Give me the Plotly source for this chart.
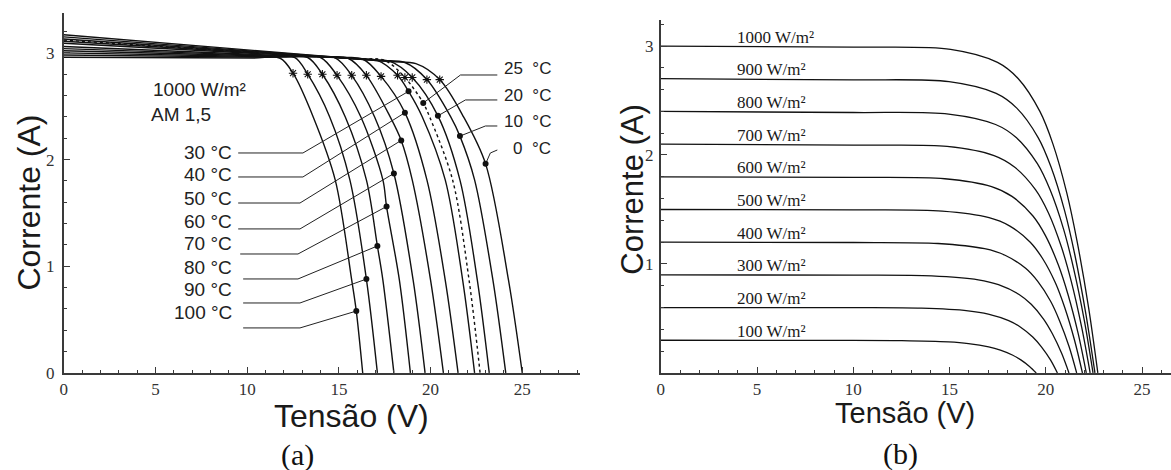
import plotly.graph_objects as go

# ---------------- Panel (a): I-V curves for several temperatures ----------------
temps_a = [100, 90, 80, 70, 60, 50, 40, 30, 25, 20, 10, 0]
volt_a = [
    [0, 10.3, 11.8, 12.5, 13.6, 14.8, 15.7, 15.95, 16.3],
    [0, 11.1, 12.6, 13.3, 14.5, 15.6, 16.5, 17.1],
    [0, 11.8, 13.3, 14.1, 15.35, 16.5, 17.1, 17.4, 18.0],
    [0, 12.5, 14.0, 14.9, 16.2, 17.4, 17.6, 18.3, 18.9],
    [0, 13.3, 14.8, 15.7, 16.95, 18.0, 19.05, 19.7],
    [0, 14.0, 15.5, 16.5, 17.8, 18.4, 19.0, 20.0, 20.7],
    [0, 14.8, 16.3, 17.3, 18.6, 19.8, 20.8, 21.5],
    [0, 15.6, 17.1, 18.2, 18.8, 19.55, 20.8, 21.75, 22.4],
    [0, 16.0, 17.5, 18.6, 19.6, 19.95, 21.2, 22.1, 22.7],
    [0, 16.3, 17.8, 19.0, 20.4, 21.6, 22.55, 23.2],
    [0, 17.1, 18.6, 19.8, 21.1, 21.6, 22.4, 23.4, 24.1],
    [0, 17.7, 19.2, 20.5, 21.8, 23.0, 24.25, 25.0],
]
curr_a = [
    [2.96, 2.952, 2.95, 2.81, 2.40, 1.81, 0.87, 0.58, 0],
    [2.98, 2.959, 2.956, 2.80, 2.40, 1.81, 0.88, 0],
    [3.00, 2.962, 2.957, 2.80, 2.40, 1.81, 1.19, 0.87, 0],
    [3.02, 2.964, 2.957, 2.79, 2.40, 1.81, 1.56, 0.87, 0],
    [3.04, 2.963, 2.954, 2.79, 2.40, 1.87, 0.87, 0],
    [3.06, 2.961, 2.95, 2.79, 2.40, 2.18, 1.81, 0.87, 0],
    [3.09, 2.956, 2.943, 2.78, 2.44, 1.81, 0.87, 0],
    [3.11, 2.949, 2.93, 2.79, 2.64, 2.40, 1.81, 0.87, 0],
    [3.12, 2.945, 2.93, 2.77, 2.53, 2.40, 1.81, 0.87, 0],
    [3.13, 2.941, 2.92, 2.77, 2.41, 1.81, 0.87, 0],
    [3.15, 2.929, 2.91, 2.75, 2.40, 2.22, 1.81, 0.87, 0],
    [3.17, 2.919, 2.90, 2.75, 2.40, 1.96, 0.87, 0],
]
# asterisk markers (one per curve)
star_v = [12.5, 13.3, 14.1, 14.9, 15.7, 16.5, 17.3, 18.2, 18.6, 19.0, 19.8, 20.5]
star_i = [2.81, 2.80, 2.80, 2.79, 2.79, 2.79, 2.78, 2.79, 2.77, 2.77, 2.75, 2.75]
# filled dots (one per curve, where the label leader line ends)
dot_v = [15.95, 16.5, 17.1, 17.6, 18.0, 18.4, 18.6, 18.8, 19.6, 20.4, 21.6, 23.0]
dot_i = [0.58, 0.88, 1.19, 1.56, 1.87, 2.18, 2.44, 2.64, 2.53, 2.41, 2.22, 1.96]

# labels on the left side and their leader lines
left_labels = ["30 °C", "40 °C", "50 °C", "60 °C", "70 °C", "80 °C", "90 °C", "100 °C"]
left_label_i = [2.062, 1.856, 1.631, 1.415, 1.209, 0.993, 0.778, 0.562]
left_label_v = 9.29
left_lead_v = [[9.51, 13.04, 18.8], [9.51, 13.04, 18.6], [9.51, 12.88, 18.4], [9.51, 12.88, 18.0],
               [9.62, 12.77, 17.6], [9.78, 12.77, 17.1], [9.78, 12.88, 16.5], [9.78, 12.88, 15.95]]
left_lead_i = [[2.062, 2.062, 2.64], [1.837, 1.837, 2.44], [1.593, 1.593, 2.18], [1.350, 1.350, 1.87],
               [1.115, 1.115, 1.56], [0.881, 0.881, 1.19], [0.656, 0.656, 0.88], [0.422, 0.422, 0.58]]
# labels on the right side
right_labels = ["25\u00a0\u00a0°C", "20\u00a0\u00a0°C", "10\u00a0\u00a0°C", "0\u00a0\u00a0°C"]
right_label_i = [2.855, 2.602, 2.358, 2.105]
right_label_v = 26.68
right_lead_v = [[23.64, 21.63, 19.6], [23.64, 21.90, 20.4], [23.64, 22.99, 21.6], [23.64, 23.26, 23.0]]
right_lead_i = [[2.793, 2.793, 2.53], [2.559, 2.559, 2.41], [2.315, 2.315, 2.22], [2.09, 2.062, 1.96]]

# ---------------- Panel (b): I-V curves for several irradiances ----------------
irr_b = [1000, 900, 800, 700, 600, 500, 400, 300, 200, 100]
volt_b = [
    [0, 10, 15.05, 17.49, 18.57, 19.69, 20.37, 21.09, 21.63, 22.22, 22.70],
    [0, 10, 14.97, 17.42, 18.49, 19.60, 20.27, 20.98, 21.51, 22.08, 22.55],
    [0, 10, 14.95, 17.39, 18.46, 19.56, 20.22, 20.92, 21.44, 22.00, 22.45],
    [0, 10, 14.87, 17.31, 18.37, 19.47, 20.13, 20.81, 21.32, 21.86, 22.30],
    [0, 10, 14.75, 17.18, 18.24, 19.33, 19.98, 20.65, 21.15, 21.68, 22.10],
    [0, 10, 14.62, 17.05, 18.11, 19.19, 19.83, 20.50, 20.98, 21.49, 21.90],
    [0, 10, 14.40, 16.82, 17.88, 18.95, 19.58, 20.24, 20.71, 21.21, 21.60],
    [0, 10, 14.07, 16.49, 17.54, 18.61, 19.24, 19.88, 20.34, 20.82, 21.20],
    [0, 10, 13.54, 15.96, 17.01, 18.07, 18.69, 19.32, 19.77, 20.24, 20.60],
    [0, 9, 12.52, 14.94, 15.98, 17.03, 17.64, 18.26, 18.70, 19.15, 19.50],
]
curr_b = [
    [3.00, 2.99, 2.97, 2.85, 2.70, 2.40, 2.10, 1.65, 1.20, 0.60, 0],
    [2.70, 2.69, 2.673, 2.565, 2.43, 2.16, 1.89, 1.485, 1.08, 0.54, 0],
    [2.40, 2.39, 2.376, 2.28, 2.16, 1.92, 1.68, 1.32, 0.96, 0.48, 0],
    [2.10, 2.09, 2.079, 1.995, 1.89, 1.68, 1.47, 1.155, 0.84, 0.42, 0],
    [1.80, 1.795, 1.782, 1.71, 1.62, 1.44, 1.26, 0.99, 0.72, 0.36, 0],
    [1.50, 1.496, 1.485, 1.425, 1.35, 1.20, 1.05, 0.825, 0.60, 0.30, 0],
    [1.20, 1.197, 1.188, 1.14, 1.08, 0.96, 0.84, 0.66, 0.48, 0.24, 0],
    [0.90, 0.898, 0.891, 0.855, 0.81, 0.72, 0.63, 0.495, 0.36, 0.18, 0],
    [0.60, 0.599, 0.594, 0.57, 0.54, 0.48, 0.42, 0.33, 0.24, 0.12, 0],
    [0.30, 0.2995, 0.297, 0.285, 0.27, 0.24, 0.21, 0.165, 0.12, 0.06, 0],
]
irr_label_v = 3.85

x_ticks = [0, 5, 10, 15, 20, 25]

INK = "#111111"
AX = "#3a3a3a"
SANS = "Liberation Sans, Arial, sans-serif"
SERIF = "Liberation Serif, Times New Roman, serif"

fig = go.Figure()

# panel (a) curves
for t, vv, ii in zip(temps_a, volt_a, curr_a):
    fig.add_trace(go.Scatter(
        x=vv, y=ii, mode="lines", xaxis="x", yaxis="y",
        line=dict(color=INK, width=1.4, shape="spline", smoothing=0.9,
                  dash="3px,3px" if t == 25 else "solid"),
        name=f"{t} °C", hoverinfo="name"))
fig.add_trace(go.Scatter(x=star_v, y=star_i, mode="markers", xaxis="x", yaxis="y",
                         marker=dict(symbol="asterisk-open", size=7, color=INK, line=dict(width=1.1, color=INK)),
                         hoverinfo="skip"))
for lv, li in zip(left_lead_v + right_lead_v, left_lead_i + right_lead_i):
    fig.add_trace(go.Scatter(x=lv, y=li, mode="lines", xaxis="x", yaxis="y",
                             line=dict(color="#222", width=1), hoverinfo="skip"))
fig.add_trace(go.Scatter(x=dot_v, y=dot_i, mode="markers", xaxis="x", yaxis="y",
                         marker=dict(symbol="circle", size=6, color=INK), hoverinfo="skip"))

# panel (b) curves
for g, vv, ii in zip(irr_b, volt_b, curr_b):
    fig.add_trace(go.Scatter(
        x=vv, y=ii, mode="lines", xaxis="x2", yaxis="y2",
        line=dict(color=INK, width=1.3, shape="spline", smoothing=0.9),
        name=f"{g} W/m²", hoverinfo="name"))

ann = []
for lbl, li in zip(left_labels, left_label_i):
    ann.append(dict(x=left_label_v, y=li, xref="x", yref="y", text=lbl, showarrow=False,
                    xanchor="right", yanchor="middle", font=dict(family=SANS, size=19, color="#222")))
for lbl, li in zip(right_labels, right_label_i):
    ann.append(dict(x=right_label_v, y=li, xref="x", yref="y", text=lbl, showarrow=False,
                    xanchor="right", yanchor="middle", font=dict(family=SANS, size=17, color="#222")))
ann.append(dict(x=4.73, y=2.66, xref="x", yref="y", text="1000 W/m²", showarrow=False,
                xanchor="left", yanchor="middle", font=dict(family=SANS, size=19, color="#222")))
ann.append(dict(x=4.62, y=2.427, xref="x", yref="y", text="AM 1,5", showarrow=False,
                xanchor="left", yanchor="middle", font=dict(family=SANS, size=19, color="#222")))
for g, ii in zip(irr_b, curr_b):
    ann.append(dict(x=irr_label_v, y=ii[0], xref="x2", yref="y2", text=f"{g} W/m²", showarrow=False,
                    xanchor="left", yanchor="middle", yshift=9,
                    font=dict(family=SERIF, size=17, color="#1a1a1a")))

# axis titles and panel letters
ann += [
    dict(x=0.0218, y=0.570, xref="paper", yref="paper", text="Corrente (A)", textangle=-90, showarrow=False,
         font=dict(family=SANS, size=32, color="#1a1a1a"), xanchor="center", yanchor="middle"),
    dict(x=0.298, y=0.115, xref="paper", yref="paper", text="Tensão (V)", showarrow=False,
         font=dict(family=SANS, size=32, color="#1a1a1a"), xanchor="center", yanchor="middle"),
    dict(x=0.5388, y=0.598, xref="paper", yref="paper", text="Corrente (A)", textangle=-90, showarrow=False,
         font=dict(family=SANS, size=31, color="#1a1a1a"), xanchor="center", yanchor="middle"),
    dict(x=0.772, y=0.122, xref="paper", yref="paper", text="Tensão (V)", showarrow=False,
         font=dict(family=SANS, size=29, color="#1a1a1a"), xanchor="center", yanchor="middle"),
    dict(x=0.2511, y=0.032, xref="paper", yref="paper", text="(a)", showarrow=False,
         font=dict(family=SERIF, size=30, color="#111"), xanchor="center", yanchor="middle"),
    dict(x=0.7686, y=0.034, xref="paper", yref="paper", text="(b)", showarrow=False,
         font=dict(family=SERIF, size=30, color="#111"), xanchor="center", yanchor="middle"),
]

axis_common = dict(showgrid=False, zeroline=False, showline=True, linecolor=AX, linewidth=1.6,
                   ticks="inside", ticklen=6, tickwidth=1.2, tickcolor=AX,
                   tickfont=dict(family=SERIF, size=17, color="#333"))

fig.update_layout(
    width=1171, height=480, margin=dict(l=0, r=0, t=0, b=0),
    paper_bgcolor="white", plot_bgcolor="white", showlegend=False,
    xaxis=dict(domain=[0.05124, 0.4936], range=[0, 28.15], anchor="y", tickvals=x_ticks,
               minor=dict(tickmode="linear", tick0=0, dtick=1, ticks="inside", ticklen=3, tickcolor=AX),
               **axis_common),
    yaxis=dict(domain=[0.2065, 0.9723], range=[0, 3.374], anchor="x", tickvals=[0, 1, 2, 3],
               minor=dict(tickmode="linear", tick0=0, dtick=0.2, ticks="inside", ticklen=3, tickcolor=AX),
               ticklabelstandoff=4, **axis_common),
    xaxis2=dict(domain=[0.5628, 1.0], range=[0, 26.5], anchor="y2", tickvals=x_ticks,
                minor=dict(tickmode="linear", tick0=0, dtick=1, ticks="inside", ticklen=3, tickcolor=AX),
                **axis_common),
    yaxis2=dict(domain=[0.2065, 0.9575], range=[0, 3.239], anchor="x2", tickvals=[1, 2, 3],
                minor=dict(tickmode="linear", tick0=0, dtick=0.2, ticks="inside", ticklen=3, tickcolor=AX),
                ticklabelstandoff=2, **axis_common),
    annotations=ann,
)

reset_css = (
    "var h=document.documentElement,b=document.body;"
    "[h,b].forEach(function(e){e.style.margin='0';e.style.padding='0';e.style.overflow='hidden';});"
)
fig.write_html("out.html", config={"displayModeBar": False}, post_script=reset_css)
